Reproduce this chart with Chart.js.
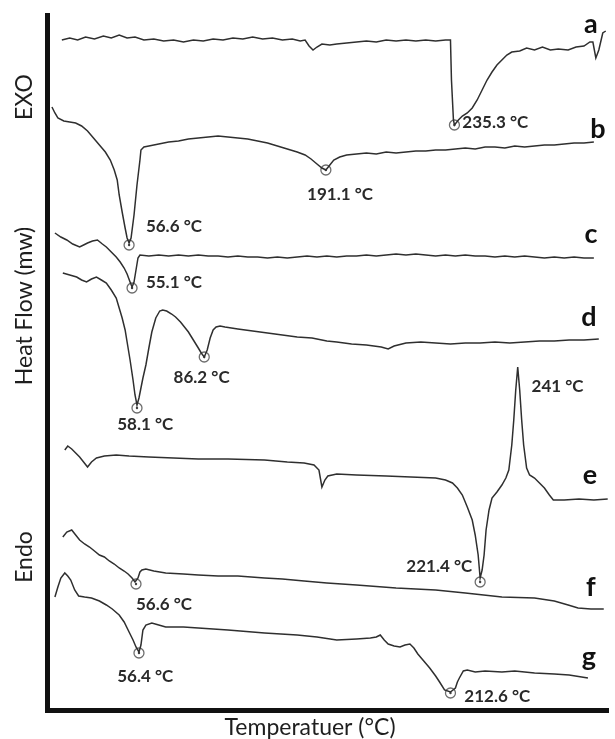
<!DOCTYPE html>
<html>
<head>
<meta charset="utf-8">
<script src="https://cdn.jsdelivr.net/npm/chart.js@4.4.1/dist/chart.umd.min.js"></script>
<style>
  html, body { margin: 0; padding: 0; background: #fff; }
</style>
</head>
<body>
<canvas id="dscChart" width="615" height="739"></canvas>
<script>
// nominal temperature (°C) and stacked heat flow (arbitrary mW)
const aT = [27.5,31.5,35.5,39.5,44,48.5,52.5,56.5,60.5,64.5,69,74,79,84,89,94,99,104,109,114,119,124,129,134,139,144,148,150.5,152.5,154.5,156.5,159,163,166.5,171.5,176.5,181.5,186.5,191.5,196.5,201.5,206.5,211.5,216.5,221.5,224,224.5,225.5,226,228,230,232.5,235,237.5,240,242.5,245,247.5,250,252.5,255,259,262.5,266.5,270.5,274.5,278.5,283.5,287.5,291.5,294.5,296,297.5,299,301,302.5];
const aH = [67.0,67.2,67.0,67.3,67.1,67.4,67.2,67.5,67.2,67.3,67.0,67.1,66.9,67.0,66.8,67.0,66.9,67.1,67.0,67.2,67.1,67.3,67.1,67.2,67.0,67.1,66.9,67.0,66.4,66.0,66.3,66.6,66.5,66.6,66.7,66.8,66.9,66.8,67.0,66.9,67.0,66.9,67.0,66.9,67.0,67.0,63.0,59.0,58.5,59.0,59.4,59.7,60.2,61.0,62.0,63.0,63.8,64.5,65.0,65.5,65.8,65.9,66.2,66.0,66.3,66.0,66.1,66.0,66.3,66.4,66.8,66.8,65.2,66.0,67.7,67.9];

const bT = [22.5,24,25.5,28.5,31.5,34.5,37.5,40.5,43.5,46.5,49.5,52,54,55.5,56.5,58,59.5,60.5,61.5,62.5,64,65.5,67,67.5,69,71.5,76.5,81.5,86.5,91.5,96.5,101.5,106.5,111.5,116.5,121.5,126.5,131.5,136.5,141.5,146.5,150.5,153.5,156.5,159,161,163,165,168,171.5,176.5,181.5,186.5,191.5,196.5,201.5,206.5,211.5,216.5,221.5,226.5,231.5,236.5,241.5,246.5,251.5,256.5,261.5,266.5,271.5,276.5,281.5,286.5,291.5,296.5];
const bH = [60.3,59.7,59.2,58.9,58.8,58.7,58.4,57.9,57.2,56.5,55.8,55.0,54.0,53.0,51.5,49.8,48.2,47.2,46.7,47.2,49.5,52.5,55.0,56.0,56.3,56.4,56.6,56.8,56.9,57.1,57.2,57.3,57.4,57.3,57.2,57.1,56.9,56.7,56.4,56.1,55.8,55.5,55.1,54.6,54.2,54.0,54.5,55.0,55.3,55.5,55.6,55.7,55.6,55.8,55.7,55.8,55.9,55.9,56.0,56.0,56.1,56.2,56.1,56.3,56.3,56.2,56.4,56.3,56.4,56.5,56.5,56.6,56.7,56.7,56.8];

const cT = [24,27,30,33,36.5,38.5,40.5,43,45.5,48,50,52.5,55,57,59,60.5,62,63,64,65,66,67,71.5,76.5,81.5,86.5,91.5,96.5,101.5,106.5,111.5,116.5,121.5,126.5,131.5,136.5,141.5,146.5,151.5,156.5,161.5,166.5,171.5,176.5,181.5,186.5,191.5,196.5,201.5,206.5,211.5,216.5,221.5,226.5,231.5,236.5,241.5,246.5,251.5,256.5,261.5,266.5,271.5,276.5,281.5,286.5,291.5,296.5];
const cH = [47.7,47.3,47.0,46.6,46.3,46.5,46.7,46.9,47.0,46.6,46.3,45.8,45.3,44.8,44.2,43.6,42.8,42.3,42.8,44.0,45.2,45.5,45.4,45.5,45.4,45.5,45.4,45.5,45.4,45.4,45.3,45.4,45.3,45.3,45.2,45.3,45.2,45.3,45.4,45.3,45.4,45.3,45.4,45.4,45.5,45.4,45.5,45.6,45.5,45.6,45.5,45.4,45.5,45.4,45.5,45.4,45.4,45.3,45.4,45.3,45.4,45.3,45.2,45.3,45.2,45.3,45.2,45.2];

const dT = [28,31.5,35,37.5,40,42.5,45,47.5,50,52.5,55,56.5,58,59.5,60.5,62,63.5,64.5,65.5,66.5,67.5,68.5,70,71.5,73,75,77,78.5,80.5,83,85,87.5,89.5,91.5,94,96.5,98,99.5,101,102.5,104,105.5,107.5,110,116.5,124,131.5,139,146.5,154,161.5,166.5,174,181.5,189,192.5,195.5,201.5,209,216.5,224,231.5,239,246.5,254,261.5,269,276.5,284,291.5,299];
const dH = [43.7,43.5,43.3,43.0,42.8,43.1,43.3,43.0,42.7,42.0,41.2,40.2,39.2,38.0,36.8,35.0,33.0,31.5,30.5,31.2,32.2,33.2,34.5,36.2,37.8,39.2,39.9,40.0,39.9,39.6,39.3,38.8,38.3,37.8,37.0,36.2,35.7,35.3,36.0,37.2,38.0,38.3,38.4,38.3,38.1,37.9,37.7,37.5,37.3,37.2,36.9,36.8,36.6,36.5,36.3,36.1,36.4,36.7,36.8,36.7,36.6,36.7,36.7,36.8,36.7,36.8,36.9,36.9,37.0,37.0,37.1];

const eT = [29,30.5,32.5,34.5,36.5,38.5,40.5,42.5,45,49,55,61.5,71.5,84,96.5,111.5,130,141.5,150,155,157.5,159,160.5,162,166.5,176.5,191.5,204,216.5,221.5,225,227.5,230,232.5,235,236.5,238,239,240,241,242,243.5,245,247.5,250,252,253.5,255,256,257,258,259,260,261,262.5,264,266.5,269,271.5,274,276,281.5,289,296.5,303.5];
const eH = [26.0,26.4,26.1,25.7,25.3,24.8,24.3,24.8,25.2,25.4,25.5,25.4,25.3,25.2,25.1,25.1,25.0,24.8,24.7,24.5,24.0,22.3,23.0,23.4,23.6,23.5,23.4,23.3,23.2,23.0,22.7,22.2,21.5,20.3,19.0,17.5,15.5,13.2,14.0,15.5,18.0,20.0,21.2,21.8,22.5,23.2,24.0,26.5,29.0,32.0,34.3,32.0,29.0,26.5,24.2,23.5,23.2,22.7,22.2,21.5,21.0,21.0,21.1,21.0,21.1];

const fT = [28,30,32.5,34.5,36.5,39,41.5,44,46.5,49,51.5,54,56.5,59,61,63,64.5,66,67,68,70,74,80,89,96.5,106.5,116.5,130,139,150,161.5,176.5,196.5,216.5,231.5,250,266.5,276.5,283.5,288.5,295,301.5];
const fH = [17.3,17.8,18.0,17.5,17.0,16.6,16.3,15.9,15.5,15.3,14.9,14.6,14.2,13.9,13.6,13.2,12.8,13.2,13.8,14.0,14.1,13.9,13.7,13.6,13.5,13.4,13.4,13.2,13.1,12.9,12.7,12.5,12.2,12.0,11.7,11.3,11.2,10.9,10.5,10.2,10.1,10.1];

const gT = [24,25.5,27,29,30.5,32,34,36,39,42.5,46.5,50,53,56.5,59,61.5,63.5,65,66.5,67.5,68.5,70,73,76.5,80,89,96.5,111.5,130,146.5,156.5,166.5,176.5,183.5,186.5,188.5,190.5,192.5,195.5,198.5,201,203.5,205.5,207.5,210.5,213.5,216.5,218.5,221,224,226.5,227.5,228.5,230.5,232.5,236.5,241.5,250,256.5,266.5,276.5,284,293.5];
const gH = [11.3,12.3,13.2,13.7,13.4,13.0,12.0,11.4,11.3,11.2,10.9,10.5,10.1,9.5,8.8,7.8,7.0,6.3,5.8,6.5,8.0,8.5,8.7,8.5,8.3,8.3,8.2,8.0,7.7,7.5,7.3,7.0,7.1,7.2,7.3,7.5,7.0,6.6,6.4,6.3,6.5,6.6,6.2,5.6,4.9,4.2,3.4,2.8,2.0,1.8,2.2,2.8,3.2,3.9,4.0,3.8,3.9,3.8,3.9,3.7,3.6,3.5,3.2];

const curveNames = ["a", "b", "c", "d", "e", "f", "g"];
const curveT = [aT, bT, cT, dT, eT, fT, gT];
const curveH = [aH, bH, cH, dH, eH, fH, gH];

// circled peaks
const peakT = [226, 61.5, 161, 63, 65.5, 99.5, 239, 65, 66.5, 224];
const peakH = [58.5, 46.5, 54.0, 42.2, 30.2, 35.3, 12.8, 12.6, 5.7, 1.7];

// peak temperature labels
const peakText = ["235.3 °C", "191.1 °C", "56.6 °C", "55.1 °C", "86.2 °C", "58.1 °C", "241 °C", "221.4 °C", "56.6 °C", "56.4 °C", "212.6 °C"];

// where the texts sit (data units) - layout only
const peakTextSpot = [[230, 58.7, "left"], [151.5, 51.5, "left"], [70, 48.3, "left"], [70, 42.7, "left"],
  [84, 33.2, "left"], [55.5, 28.5, "left"], [265, 32.3, "left"], [235, 14.3, "right"],
  [65, 10.5, "left"], [55.5, 3.3, "left"], [231, 1.3, "left"]];
const letterSpot = [[295, 68.6], [298.5, 58.1], [295, 47.6], [294, 39.3], [294.5, 23.5], [295, 12.3], [294, 5.3]];
const sideText = [["EXO", 61.3], ["Heat Flow (mw)", 40.4], ["Endo", 15.3]];
const xTitle = ["Temperatuer (°C)", 153, -1.8];

const LINE = "#2f2f2f";
const TEXT = "#1e1e1e";

const datasets = curveT.map((ts, i) => ({
  label: curveNames[i],
  data: ts.map((t, k) => ({ x: t, y: curveH[i][k] })),
  borderColor: LINE,
  borderWidth: 1.5,
  pointRadius: 0,
  tension: 0,
  fill: false
}));

datasets.push({
  type: "scatter",
  label: "peaks",
  data: peakT.map((t, k) => ({ x: t, y: peakH[k] })),
  pointRadius: 5,
  pointBorderColor: "#6e6e6e",
  pointBackgroundColor: "rgba(0,0,0,0)",
  pointBorderWidth: 1.3
});
datasets.push({
  type: "scatter",
  label: "peakDots",
  data: peakT.map((t, k) => ({ x: t, y: peakH[k] })),
  pointRadius: 1.2,
  pointBorderWidth: 0,
  pointBackgroundColor: "#444"
});

const textPlugin = {
  id: "dscText",
  afterDraw(chart) {
    const { ctx, chartArea } = chart;
    const x = chart.scales.x, y = chart.scales.y;
    ctx.save();
    ctx.textBaseline = "middle";

    ctx.fillStyle = "#2a2a2a";
    ctx.font = "bold 17px Lato";
    peakText.forEach((txt, i) => {
      const s = peakTextSpot[i];
      ctx.textAlign = s[2];
      ctx.fillText(txt, x.getPixelForValue(s[0]), y.getPixelForValue(s[1]));
    });

    ctx.fillStyle = "#111";
    ctx.font = "bold 27px Lato";
    ctx.textAlign = "center";
    curveNames.forEach((n, i) => {
      ctx.fillText(n, x.getPixelForValue(letterSpot[i][0]), y.getPixelForValue(letterSpot[i][1]));
    });

    ctx.fillStyle = TEXT;
    ctx.font = "23px Lato";
    sideText.forEach(([txt, h]) => {
      ctx.save();
      ctx.translate(chartArea.left - 22, y.getPixelForValue(h));
      ctx.rotate(-Math.PI / 2);
      ctx.fillText(txt, 0, 0);
      ctx.restore();
    });

    ctx.fillText(xTitle[0], x.getPixelForValue(xTitle[1]), y.getPixelForValue(xTitle[2]));
    ctx.restore();
  }
};

new Chart(document.getElementById("dscChart"), {
  type: "line",
  data: { datasets },
  options: {
    responsive: false,
    animation: false,
    devicePixelRatio: 1,
    layout: { padding: { top: 15, right: 0, left: 0, bottom: 0 } },
    plugins: { legend: { display: false }, tooltip: { enabled: false } },
    scales: {
      x: {
        type: "linear", min: 20, max: 304,
        ticks: { display: false },
        grid: { display: false, drawTicks: false },
        border: { display: true, width: 5, color: "#111" },
        afterFit: s => { s.height = 29; }
      },
      y: {
        type: "linear", min: 0, max: 69.5,
        ticks: { display: false },
        grid: { display: false, drawTicks: false },
        border: { display: true, width: 5, color: "#111" },
        afterFit: s => { s.width = 47; }
      }
    }
  },
  plugins: [textPlugin]
});
</script>
</body>
</html>
